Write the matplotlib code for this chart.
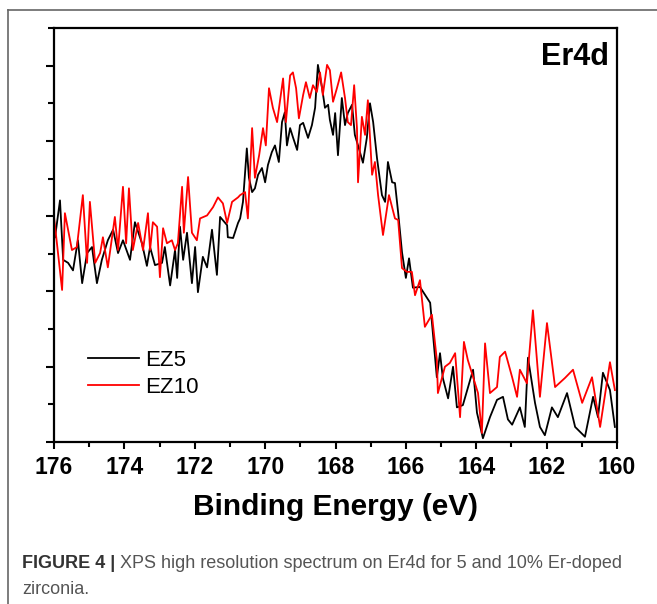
import matplotlib
matplotlib.use('Agg')
import matplotlib.pyplot as plt
from matplotlib.lines import Line2D
from matplotlib.ticker import MultipleLocator, NullFormatter

# EZ5 (black) - binding energy (eV) and intensity (a.u.)
ez5_be = [175.97, 175.83, 175.74, 175.60, 175.46, 175.32, 175.20, 175.06, 174.92, 174.78,
          174.64, 174.47, 174.32, 174.18, 174.04, 173.84, 173.70, 173.50, 173.36, 173.27,
          173.13, 172.93, 172.85, 172.70, 172.56, 172.50, 172.42, 172.33, 172.22, 172.08,
          171.99, 171.91, 171.77, 171.65, 171.51, 171.37, 171.28, 171.08, 171.06, 170.91,
          170.77, 170.71, 170.63, 170.52, 170.46, 170.37, 170.29, 170.20, 170.09, 170.00,
          169.92, 169.81, 169.72, 169.61, 169.52, 169.44, 169.38, 169.29, 169.21, 169.09,
          169.01, 168.92, 168.78, 168.67, 168.58, 168.50, 168.38, 168.30, 168.21, 168.16,
          168.07, 168.01, 167.93, 167.82, 167.73, 167.65, 167.53, 167.45, 167.36, 167.22,
          167.11, 167.02, 166.93, 166.82, 166.68, 166.59, 166.51, 166.39, 166.31, 166.22,
          166.11, 166.00, 165.91, 165.80, 165.60,
          165.31, 165.12, 165.03, 164.95, 164.80, 164.66, 164.55, 164.38, 164.09, 163.98,
          163.81, 163.61, 163.41, 163.24, 163.10, 162.98, 162.76, 162.62, 162.53, 162.33,
          162.19, 162.05, 161.85, 161.68, 161.42, 161.19, 160.91, 160.68, 160.54, 160.40,
          160.20, 160.06]
ez5_int = [2.72, 3.21, 2.42, 2.38, 2.28, 2.68, 2.11, 2.51, 2.59, 2.11,
           2.42, 2.68, 2.82, 2.51, 2.68, 2.42, 2.92, 2.64, 2.34, 2.59,
           2.35, 2.38, 2.59, 2.08, 2.55, 2.18, 2.86, 2.42, 2.78, 2.11,
           2.59, 1.99, 2.46, 2.32, 2.82, 2.22, 2.99, 2.88, 2.72, 2.71,
           2.91, 2.97, 3.19, 3.90, 3.51, 3.32, 3.37, 3.55, 3.64, 3.45,
           3.68, 3.85, 3.94, 3.72, 4.25, 4.38, 3.94, 4.17, 4.05, 3.88,
           4.21, 4.24, 4.04, 4.21, 4.44, 5.01, 4.70, 4.44, 4.48, 4.28,
           4.08, 4.37, 3.81, 4.57, 4.21, 4.37, 4.48, 4.08, 3.94, 3.71,
           4.04, 4.50, 4.25, 3.77, 3.28, 3.19, 3.72, 3.45, 3.44, 3.05,
           2.52, 2.18, 2.44, 2.05, 2.06,
           1.85, 0.86, 1.18, 0.85, 0.58, 1.00, 0.46, 0.49, 0.96, 0.39,
           0.05, 0.33, 0.56, 0.60, 0.30, 0.23, 0.46, 0.20, 1.12, 0.52,
           0.20, 0.09, 0.46, 0.33, 0.65, 0.20, 0.07, 0.60, 0.33, 0.92,
           0.69, 0.20]

# EZ10 (red)
ez10_be = [176.00, 175.77, 175.69, 175.49, 175.35, 175.18, 175.06, 174.98, 174.83, 174.69,
           174.61, 174.47, 174.27, 174.18, 174.04, 173.95, 173.87, 173.76, 173.61, 173.47,
           173.33, 173.27, 173.19, 173.07, 172.99, 172.90, 172.79, 172.65, 172.56, 172.48,
           172.36, 172.31, 172.19, 172.08, 171.94, 171.85, 171.65, 171.48, 171.34, 171.20,
           171.08, 170.94, 170.77, 170.71, 170.57, 170.49, 170.37, 170.29, 170.17, 170.06,
           169.98, 169.89, 169.78, 169.66, 169.49, 169.41, 169.29, 169.21, 169.12, 169.04,
           168.92, 168.84, 168.73, 168.64, 168.53, 168.44, 168.36, 168.24, 168.16, 168.07,
           167.96, 167.84, 167.73, 167.65, 167.56, 167.47, 167.39, 167.36, 167.25, 167.16,
           167.08, 166.96, 166.88, 166.79, 166.65, 166.48, 166.31, 166.22, 166.11, 165.97,
           165.83, 165.74, 165.60,
           165.46, 165.26, 165.12, 165.09, 164.89, 164.75, 164.60, 164.46,
           164.35, 164.24, 163.95, 163.84, 163.75, 163.61, 163.41, 163.33, 163.18, 162.98,
           162.84, 162.76, 162.56, 162.39, 162.19, 161.99, 161.76, 161.48, 161.25, 160.99,
           160.71, 160.48, 160.20, 160.06]
ez10_int = [2.99, 2.02, 3.04, 2.55, 2.59, 3.28, 2.38, 3.19, 2.38, 2.51,
            2.72, 2.32, 2.99, 2.55, 3.39, 2.64, 3.37, 2.55, 2.91, 2.55,
            3.04, 2.55, 2.92, 2.86, 2.19, 2.84, 2.64, 2.68, 2.55, 2.64,
            3.39, 2.78, 3.52, 2.78, 2.68, 2.97, 3.01, 3.12, 3.25, 3.17,
            2.91, 3.19, 3.25, 3.28, 3.32, 2.97, 4.17, 3.51, 3.81, 4.17,
            3.94, 4.70, 4.44, 4.25, 4.83, 4.25, 4.87, 4.91, 4.70, 4.30,
            4.61, 4.78, 4.57, 4.74, 4.65, 4.91, 4.61, 5.01, 4.94, 4.52,
            4.70, 4.91, 4.57, 4.25, 4.21, 4.74, 4.17, 3.45, 4.32, 4.08,
            4.54, 3.55, 3.72, 3.28, 2.75, 3.28, 2.97, 2.95, 2.31, 2.26,
            2.26, 1.95, 2.15,
            1.53, 1.69, 1.09, 0.65, 1.00, 1.05, 1.18, 0.33,
            1.33, 1.09, 0.65, 0.12, 1.31, 0.65, 0.73, 1.13, 1.20, 0.86,
            0.60, 0.96, 0.78, 1.75, 0.60, 1.58, 0.73, 0.85, 0.96, 0.52,
            0.86, 0.20, 1.06, 0.69]

x_ticks = [176, 174, 172, 170, 168, 166, 164, 162, 160]

plt.rcParams['font.family'] = ['Liberation Sans', 'DejaVu Sans']

fig = plt.figure(figsize=(6.57, 6.04), dpi=100)
ax = fig.add_axes([54 / 657, 1 - 442 / 604, 563 / 657, 414 / 604])

ax.plot(ez5_be, ez5_int, color='black', lw=1.3, label='EZ5')
ax.plot(ez10_be, ez10_int, color='#ff0000', lw=1.3, label='EZ10')

ax.set_xlim(176, 160)
ax.set_ylim(0, 5.5)
ax.set_xticks(x_ticks)
ax.xaxis.set_minor_locator(MultipleLocator(1))
ax.yaxis.set_major_locator(MultipleLocator(1))
ax.yaxis.set_minor_locator(MultipleLocator(0.5))
ax.yaxis.set_major_formatter(NullFormatter())
ax.tick_params(axis='x', which='major', direction='out', length=5, width=1.5,
               labelsize=16.5, pad=5)
ax.tick_params(axis='x', which='minor', direction='out', length=3.5, width=1.5)
ax.tick_params(axis='y', which='major', direction='out', length=6, width=1.5)
ax.tick_params(axis='y', which='minor', direction='out', length=4, width=1.5)
for lab in ax.get_xticklabels():
    lab.set_fontweight('bold')
for sp in ax.spines.values():
    sp.set_linewidth(1.6)

ax.set_xlabel('Binding Energy (eV)', fontsize=21.5, fontweight='bold', labelpad=10)
ax.text(0.985, 0.965, 'Er4d', transform=ax.transAxes, ha='right', va='top',
        fontsize=22, fontweight='bold')

ax.legend(loc='upper left', bbox_to_anchor=(0.06, 0.222), frameon=False,
          fontsize=16, handlelength=2.3, handletextpad=0.3, labelspacing=0.25,
          borderpad=0, borderaxespad=0)

# figure frame (left and top edges)
fig.add_artist(Line2D([8 / 657, 8 / 657], [0, 1 - 10 / 604], color='#666666', lw=1.2))
fig.add_artist(Line2D([8 / 657, 1], [1 - 10 / 604, 1 - 10 / 604], color='#666666', lw=1.2))

# caption
fig.canvas.draw()
renderer = fig.canvas.get_renderer()
t1 = fig.text(22 / 657, 1 - 563 / 604, 'FIGURE 4 | ', fontsize=13, fontweight='bold',
              color='#333333', va='center')
bb = t1.get_window_extent(renderer)
fig.text(bb.x1 / fig.bbox.width, 1 - 563 / 604,
         'XPS high resolution spectrum on Er4d for 5 and 10% Er-doped',
         fontsize=13, color='#555555', va='center')
fig.text(22 / 657, 1 - 589 / 604, 'zirconia.', fontsize=13, color='#555555', va='center')

fig.savefig('out.png', dpi=100)
